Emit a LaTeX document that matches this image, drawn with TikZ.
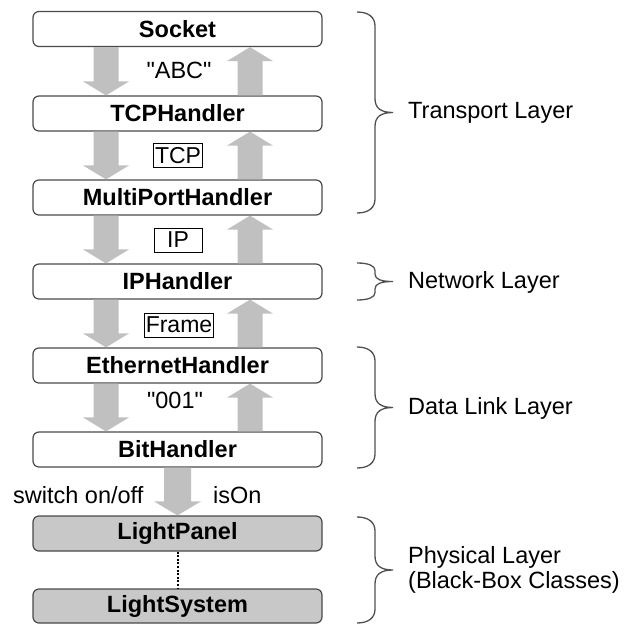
\documentclass[tikz,border=0pt]{standalone}
\usepackage{fontspec}
\setmainfont{Liberation Sans}
\newfontfamily\qfont{Liberation Sans}
\usetikzlibrary{calc}
\definecolor{arrowgray}{HTML}{C0C0C0}
\definecolor{boxline}{HTML}{4A4A4A}
\definecolor{physfill}{HTML}{C8C8C8}
\definecolor{bracecol}{HTML}{505050}
\newcommand\dnarr[3]{\fill[arrowgray] let \p1=(#2.south), \p2=(#3.north) in
 ({#1pt-12.5pt},\y1) -- ({#1pt+12.5pt},\y1) -- ({#1pt+12.5pt},\y2+14pt) -- ({#1pt+23pt},\y2+14pt)
 -- (#1pt,\y2) -- ({#1pt-23pt},\y2+14pt) -- ({#1pt-12.5pt},\y2+14pt) -- cycle;}
\newcommand\uparr[3]{\fill[arrowgray] let \p1=(#2.north), \p2=(#3.south) in
 ({#1pt-12.5pt},\y1) -- ({#1pt+12.5pt},\y1) -- ({#1pt+12.5pt},\y2-14pt) -- ({#1pt+23pt},\y2-14pt)
 -- (#1pt,\y2) -- ({#1pt-23pt},\y2-14pt) -- ({#1pt-12.5pt},\y2-14pt) -- cycle;}
\newcommand\layerbrace[2]{%
 \pgfmathsetmacro\braceTop{-(#1)}\pgfmathsetmacro\braceBot{-(#2)}%
 \pgfmathsetmacro\braceMid{(\braceTop+\braceBot)/2}\pgfmathsetmacro\braceR{min(14,((#2)-(#1))/5)}%
 \draw[brace] (357,\braceTop) .. controls (369,\braceTop) and (375,\braceTop-0.4*\braceR) .. (375,\braceTop-\braceR)
  -- (375,\braceMid+\braceR) .. controls (375,\braceMid+0.3*\braceR) and (381,\braceMid) .. (393,\braceMid)
  .. controls (381,\braceMid) and (375,\braceMid-0.3*\braceR) .. (375,\braceMid-\braceR)
  -- (375,\braceBot+\braceR) .. controls (375,\braceBot+0.4*\braceR) and (369,\braceBot) .. (357,\braceBot);}
\begin{document}
\begin{tikzpicture}[x=1pt,y=1pt,
 cls/.style={draw=boxline, line width=1.2pt, rounded corners=6pt, fill=white, minimum width=289pt,
   minimum height=35pt, inner sep=0pt, font=\fontsize{23.5}{26}\selectfont\bfseries},
 phys/.style={cls, fill=physfill},
 msg/.style={font=\fontsize{23.5}{26}\selectfont, inner sep=0pt},
 pkt/.style={draw=black, line width=0.9pt, inner sep=1.5pt, minimum height=24pt,
   font=\fontsize{23}{26}\selectfont},
 layer/.style={anchor=west, font=\fontsize{23.5}{24.5}\selectfont, align=left, inner sep=0pt},
 brace/.style={draw=bracecol, line width=1.3pt}]
\useasboundingbox (0,0) rectangle (634,-624);
% class boxes
\node[cls] (sock) at (177.5,-29) {Socket};
\node[cls] (tcph) at (177.5,-113.5) {TCPHandler};
\node[cls] (mph) at (177.5,-197.5) {MultiPortHandler};
\node[cls] (iph) at (177.5,-281.5) {IPHandler};
\node[cls] (eth) at (177.5,-365.5) {EthernetHandler};
\node[cls] (bit) at (177.5,-449.5) {BitHandler};
\node[phys] (lp) at (177.5,-533.5) {LightPanel};
\node[phys, minimum height=34pt] (ls) at (177.5,-606) {LightSystem};
% arrows
\dnarr{106}{sock}{tcph} \uparr{250}{tcph}{sock}
\dnarr{106}{tcph}{mph}  \uparr{250}{mph}{tcph}
\dnarr{106}{mph}{iph}   \uparr{250}{iph}{mph}
\dnarr{106}{iph}{eth}   \uparr{250}{eth}{iph}
\dnarr{106}{eth}{bit}   \uparr{250}{bit}{eth}
\fill[arrowgray] let \p1=(bit.south), \p2=(lp.north) in
 (164pt,\y1) -- (191pt,\y1) -- (191pt,\y2+14pt) -- (201pt,\y2+14pt) -- (177.5pt,\y2)
 -- (154pt,\y2+14pt) -- (164pt,\y2+14pt) -- cycle;
\draw[line width=2pt, dash pattern=on 2pt off 1.6pt] (lp.south) -- (ls.north);
% messages
\node[msg] (abc) at (179,-70) {\qfont "ABC"};
\node[pkt, minimum width=48pt] (tcp) at (178,-155.5) {TCP};
\node[pkt, minimum width=48pt] (ip) at (178,-240) {IP};
\node[pkt] (frame) at (179,-325) {Frame};
\node[msg] (n001) at (175,-400) {\qfont "001"};
\node[msg, anchor=west] (sw) at (13,-495) {switch on/off};
\node[msg, anchor=west] (ison) at (213,-495) {isOn};
% layers
\layerbrace{12}{213}
\layerbrace{263}{300}
\layerbrace{347}{468}
\layerbrace{517}{623}
\node[layer] (tl) at (408,-113) {Transport Layer};
\node[layer] (nl) at (408,-282) {Network Layer};
\node[layer] (dl) at (408,-408) {Data Link Layer};
\node[layer] (pl) at (408,-570) {Physical Layer\\(Black-Box Classes)};
\end{tikzpicture}
\end{document}
